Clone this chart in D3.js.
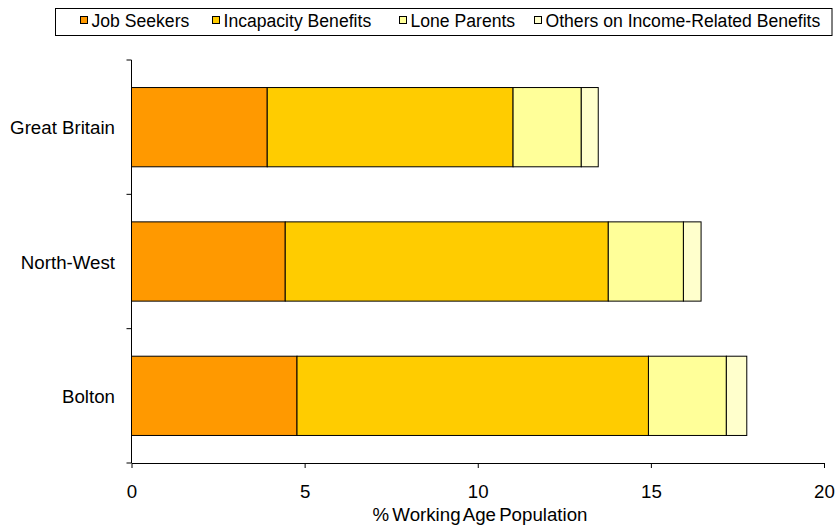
<!DOCTYPE html>
<html lang="en">
<head>
  <meta charset="UTF-8">
  <title>Benefit claimants</title>
  <script src="https://d3js.org/d3.v7.min.js"></script>
  <style>
    body { margin: 0; background: #fff; }
    svg text { font-family: "Liberation Sans", Arial, sans-serif; fill: #000; }
  </style>
</head>
<body>
  <svg width="840" height="526"></svg>
  <script>
    // data
    const areas = ["Great Britain", "North-West", "Bolton"];
    const seriesNames = ["Job Seekers", "Incapacity Benefits", "Lone Parents", "Others on Income-Related Benefits"];
    const jobSeekers = [3.92, 4.44, 4.78];
    const incapacity = [7.10, 9.33, 10.15];
    const loneParents = [1.97, 2.17, 2.25];
    const others = [0.49, 0.51, 0.59];
    const xTicks = [0, 5, 10, 15, 20];
    const colors = ["#FF9900", "#FFCC00", "#FFFF99", "#FFFFCC"];

    const svg = d3.select("svg");
    const plotL = 131.5, plotR = 824, plotT = 60, plotB = 463;

    const rows = areas.map((a, i) => ({
      area: a,
      "Job Seekers": jobSeekers[i],
      "Incapacity Benefits": incapacity[i],
      "Lone Parents": loneParents[i],
      "Others on Income-Related Benefits": others[i]
    }));
    const stacked = d3.stack().keys(seriesNames)(rows);

    const x = d3.scaleLinear().domain([0, 20]).range([plotL, plotR]);
    const y = d3.scaleBand().domain(areas).range([plotT, plotB]);
    const barH = y.bandwidth() * 0.59;

    // bars
    svg.append("g").selectAll("g")
      .data(stacked)
      .join("g")
      .attr("fill", (d, i) => colors[i])
      .selectAll("rect")
      .data(d => d)
      .join("rect")
      .attr("x", d => x(d[0]))
      .attr("width", d => x(d[1]) - x(d[0]))
      .attr("y", d => y(d.data.area) + (y.bandwidth() - barH) / 2)
      .attr("height", barH)
      .attr("stroke", "#000")
      .attr("stroke-width", 1);

    // y axis: ticks at band edges
    const yg = svg.append("g");
    yg.append("line")
      .attr("x1", plotL).attr("x2", plotL)
      .attr("y1", plotT).attr("y2", plotB)
      .attr("stroke", "#000");
    const edges = areas.map(a => y(a)).concat([plotB]);
    yg.selectAll(".tk").data(edges).join("line")
      .attr("class", "tk")
      .attr("x1", plotL - 5).attr("x2", plotL)
      .attr("y1", d => d).attr("y2", d => d)
      .attr("stroke", "#000");
    yg.selectAll("text").data(areas).join("text")
      .attr("x", 115)
      .attr("y", d => y(d) + y.bandwidth() / 2 + 7)
      .attr("text-anchor", "end")
      .attr("font-size", 18.7)
      .text(d => d);

    // x axis
    const xAxis = d3.axisBottom(x).tickValues(xTicks).tickSize(5).tickSizeOuter(0);
    const xg = svg.append("g")
      .attr("transform", `translate(0,${plotB})`)
      .call(xAxis);
    xg.select(".domain").attr("stroke", "#000");
    xg.selectAll(".tick line").attr("stroke", "#000");
    xg.selectAll(".tick text")
      .attr("y", 35)
      .attr("dy", 0)
      .attr("font-size", 18.7)
      .attr("font-family", "Liberation Sans, Arial, sans-serif")
      .attr("fill", "#000");

    svg.append("text")
      .attr("x", 480)
      .attr("y", 521)
      .attr("text-anchor", "middle")
      .attr("font-size", 18.7)
      .attr("word-spacing", -2)
      .text("% Working Age Population");

    // legend
    const lg = svg.append("g");
    lg.append("rect")
      .attr("x", 55.5).attr("y", 8.5)
      .attr("width", 776.5).attr("height", 27)
      .attr("fill", "#fff").attr("stroke", "#000");
    const legX = [80.5, 212.5, 399.5, 534.5];
    const item = lg.selectAll(".item").data(seriesNames).join("g")
      .attr("class", "item")
      .attr("transform", (d, i) => `translate(${legX[i]},16)`);
    item.append("rect")
      .attr("x", 0).attr("y", 0.5)
      .attr("width", 7).attr("height", 7)
      .attr("fill", (d, i) => colors[i])
      .attr("stroke", "#000");
    item.append("text")
      .attr("x", 11).attr("y", 11)
      .attr("font-size", 17.6)
      .text(d => d);
  </script>
</body>
</html>
